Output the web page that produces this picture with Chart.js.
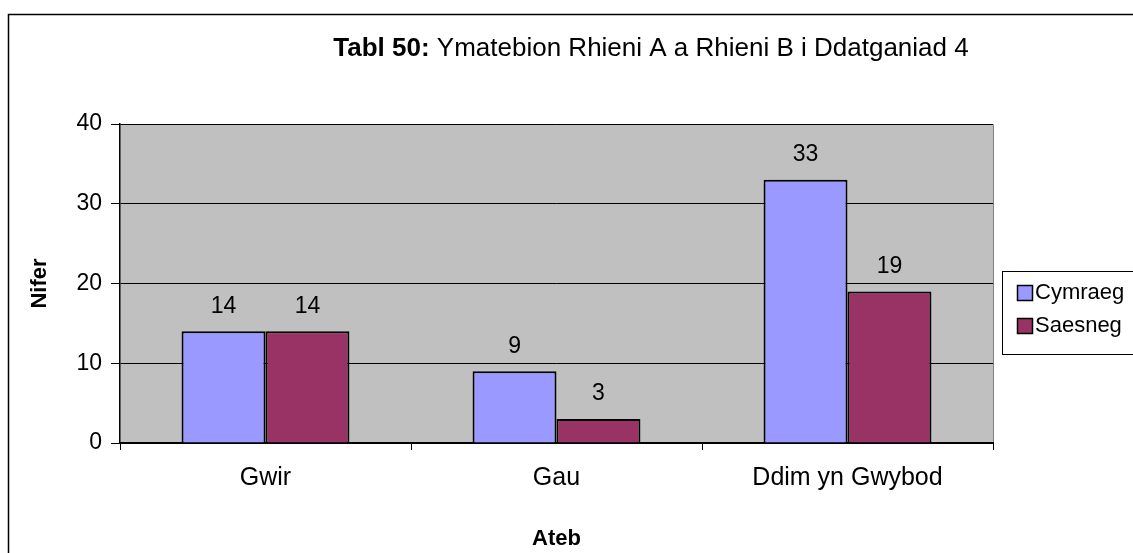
<!DOCTYPE html>
<html><head><meta charset="utf-8">
<script src="https://cdn.jsdelivr.net/npm/chart.js@4"></script>
<style>html,body{margin:0;padding:0;background:#fff;}#wrap{width:1133px;height:553px;}</style>
</head><body><div id="wrap"><canvas id="c" width="1133" height="553"></canvas></div>
<script>
const categories = ["Gwir", "Gau", "Ddim yn Gwybod"];
const seriesNames = ["Cymraeg", "Saesneg"];
const cymraeg = [14, 9, 33];
const saesneg = [14, 3, 19];
const yTicks = [0, 10, 20, 30, 40];

const FONT = "'Liberation Sans', Arial, sans-serif";
const colors = ["#9999FF", "#993366"];

const deco = {
  id: 'deco',
  beforeDraw(chart) {
    const {ctx, chartArea: a} = chart;
    ctx.save();
    ctx.fillStyle = '#fff';
    ctx.fillRect(0, 0, chart.width, chart.height);
    ctx.fillStyle = '#C0C0C0';
    ctx.fillRect(a.left, a.top, a.right - a.left, a.bottom - a.top);
    ctx.strokeStyle = '#808080';
    ctx.lineWidth = 1;
    ctx.beginPath();
    ctx.moveTo(a.left, a.top + 0.5); ctx.lineTo(a.right + 0.5, a.top + 0.5); ctx.lineTo(a.right + 0.5, a.bottom);
    ctx.stroke();
    ctx.strokeStyle = '#000';
    ctx.lineWidth = 1.5;
    ctx.strokeRect(8.5, 14.5, 3000, 3000);
    ctx.restore();
  },
  afterDraw(chart) {
    const {ctx, chartArea: a} = chart;
    ctx.save();
    ctx.fillStyle = '#000';
    ctx.textBaseline = 'middle';
    const boldPart = 'Tabl 50:';
    const rest = ' Ymatebion Rhieni A a Rhieni B i Ddatganiad 4';
    ctx.font = 'bold 26px ' + FONT;
    const w1 = ctx.measureText(boldPart).width;
    ctx.font = '26px ' + FONT;
    const w2 = ctx.measureText(rest).width;
    const x0 = 651 - (w1 + w2) / 2;
    ctx.textAlign = 'left';
    ctx.font = 'bold 26px ' + FONT;
    ctx.fillText(boldPart, x0, 49);
    ctx.font = '26px ' + FONT;
    ctx.fillText(rest, x0 + w1, 49);
    // axis titles
    ctx.font = 'bold 22px ' + FONT;
    ctx.textAlign = 'center';
    ctx.fillText('Ateb', (a.left + a.right) / 2, 539);
    ctx.save();
    ctx.translate(40, (a.top + a.bottom) / 2);
    ctx.rotate(-Math.PI / 2);
    ctx.fillText('Nifer', 0, 0);
    ctx.restore();
    // data labels
    ctx.font = '23px ' + FONT;
    chart.data.datasets.forEach((ds, i) => {
      chart.getDatasetMeta(i).data.forEach((bar, j) => {
        ctx.fillText(String(ds.data[j]), bar.x, bar.y - 25);
      });
    });
    // legend
    ctx.strokeStyle = '#000';
    ctx.lineWidth = 1;
    ctx.strokeRect(1002.5, 271.5, 200, 83);
    ctx.textAlign = 'left';
    ctx.font = '22px ' + FONT;
    seriesNames.forEach((n, i) => {
      const y = 293 + i * 33;
      ctx.fillStyle = colors[i];
      ctx.fillRect(1017, y - 8, 16, 16);
      ctx.lineWidth = 1.5;
      ctx.strokeRect(1017.5, y - 7.5, 15, 15);
      ctx.fillStyle = '#000';
      ctx.fillText(n, 1035, y);
    });
    ctx.restore();
  }
};

new Chart(document.getElementById('c'), {
  type: 'bar',
  data: {
    labels: categories,
    datasets: [
      {label: seriesNames[0], data: cymraeg, backgroundColor: colors[0], borderColor: '#000', borderWidth: 2},
      {label: seriesNames[1], data: saesneg, backgroundColor: colors[1], borderColor: '#000', borderWidth: 2}
    ]
  },
  options: {
    responsive: false,
    animation: false,
    events: [],
    layout: {padding: {left: 10, top: 124, right: 140, bottom: 0}},
    datasets: {bar: {categoryPercentage: 0.577, barPercentage: 1}},
    plugins: {legend: {display: false}, title: {display: false}, tooltip: {enabled: false}},
    scales: {
      x: {
        afterFit: s => { s.height = 110; },
        grid: {offset: true, drawOnChartArea: false, color: '#000', tickLength: 7, tickColor: '#000'},
        border: {color: '#000', width: 2},
        ticks: {color: '#000', font: {family: FONT, size: 25}, padding: 13}
      },
      y: {
        min: 0, max: 40,
        afterFit: s => { s.width = 110; },
        afterBuildTicks: s => { s.ticks = yTicks.map(v => ({value: v})); },
        grid: {color: '#000', tickLength: 9, tickColor: '#000', lineWidth: 1},
        border: {color: '#000', width: 1.5},
        ticks: {color: '#000', font: {family: FONT, size: 23}, padding: 9}
      }
    }
  },
  plugins: [deco]
});
</script></body></html>
